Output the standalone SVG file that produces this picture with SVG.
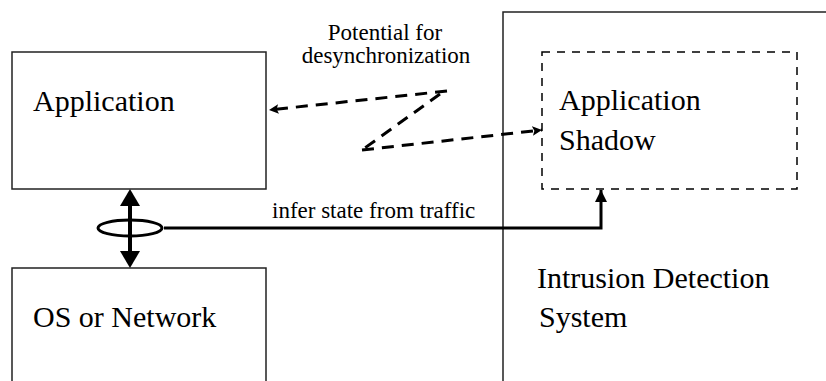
<svg xmlns="http://www.w3.org/2000/svg" width="826" height="381" viewBox="0 0 826 381">
<style>
.box{fill:none;stroke:#222;stroke-width:1.5}
.dbox{fill:none;stroke:#000;stroke-width:1.5;stroke-dasharray:8 7}
.big{font-family:'Liberation Serif','Times New Roman',Times,'DejaVu Serif',serif;font-size:30px;fill:#000}
.small{font-family:'Liberation Serif','Times New Roman',Times,'DejaVu Serif',serif;font-size:23px;fill:#000}
.dash{fill:none;stroke:#000;stroke-width:3;stroke-dasharray:12 8}
.solid{fill:none;stroke:#000;stroke-width:3}
</style>
<defs>
<marker id="ah" viewBox="0 0 10 10" refX="10" refY="5" markerWidth="3.2" markerHeight="3.2" orient="auto" markerUnits="strokeWidth">
<path d="M0,0 L10,5 L0,10 L2,5 Z" fill="#000"/>
</marker>
<marker id="sm" viewBox="0 0 10 10" refX="10" refY="5" markerWidth="4" markerHeight="4" orient="auto" markerUnits="strokeWidth">
<path d="M0,0 L10,5 L0,10 Z" fill="#000"/>
</marker>
</defs>
<g id="ids">
<path class="box" d="M503,381 L503,12 L826,12"/>
<text class="big" x="537" y="288" font-family="Liberation Serif, serif">Intrusion Detection</text>
<text class="big" x="539" y="327" font-family="Liberation Serif, serif">System</text>
</g>
<g id="app">
<rect class="box" x="12" y="52" width="254" height="137"/>
<text class="big" x="33" y="111" font-family="Liberation Serif, serif">Application</text>
</g>
<g id="os">
<path class="box" d="M12,381 L12,268 L266,268 L266,381"/>
<text class="big" x="33" y="327" font-family="Liberation Serif, serif">OS or Network</text>
</g>
<g id="shadow">
<rect class="dbox" x="542" y="52" width="255" height="137"/>
<text class="big" x="559" y="110" font-family="Liberation Serif, serif">Application</text>
<text class="big" x="559" y="150" font-family="Liberation Serif, serif">Shadow</text>
</g>
<g id="labels">
<text class="small" x="385" y="40" text-anchor="middle" font-family="Liberation Serif, serif">Potential for</text>
<text class="small" x="386" y="63" text-anchor="middle" font-family="Liberation Serif, serif">desynchronization</text>
<text class="small" x="272" y="218" font-family="Liberation Serif, serif">infer state from traffic</text>
</g>
<g id="connectors">
<path class="dash" d="M447,91 L269,110" marker-end="url(#ah)"/>
<path class="dash" d="M440,94 L362,150"/>
<path class="dash" d="M362,150 L542,130" marker-end="url(#ah)"/>
<path d="M130,205 L130,252" stroke="#000" stroke-width="4"/>
<path d="M130,189 L120,206 L140,206 Z" fill="#000"/>
<path d="M130,268 L120,251 L140,251 Z" fill="#000"/>
<ellipse cx="130" cy="228" rx="32" ry="8" class="solid"/>
<path class="solid" d="M164,228 L601,228 L601,190" marker-end="url(#sm)"/>
</g>
</svg>
